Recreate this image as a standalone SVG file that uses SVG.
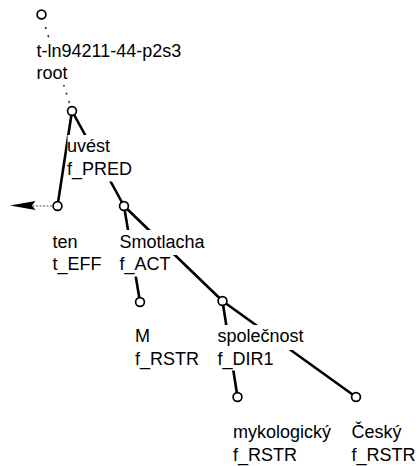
<svg xmlns="http://www.w3.org/2000/svg" width="419" height="466" viewBox="0 0 419 466">
  <style>
    .edge { stroke: #000; stroke-width: 2.6; fill: none; stroke-linecap: round; }
    .hidden-edge { stroke: #333; stroke-width: 1.7; fill: none; stroke-dasharray: 2 6.6; stroke-dashoffset: 2.4; }
    .coref { stroke: #888; stroke-width: 1.6; fill: none; stroke-dasharray: 2 1.5; }
    .node { fill: #fff; stroke: #000; stroke-width: 1.7; }
    .bg { fill: #fff; stroke: none; }
    text { font-family: "Liberation Sans", Arial, Helvetica, sans-serif; font-size: 18px; fill: #000; }
  </style>
  <rect width="419" height="466" fill="#fff"/>

  <!-- connectors -->
  <g id="connectors">
    <line class="hidden-edge" x1="43.6" y1="21.2" x2="70.5" y2="106.2"/>
    <line class="edge" x1="72" y1="111" x2="57.5" y2="206"/>
    <line class="edge" x1="72" y1="111" x2="124" y2="206"/>
    <line class="edge" x1="124" y1="206" x2="140" y2="302"/>
    <line class="edge" x1="124" y1="206" x2="222.5" y2="301"/>
    <line class="edge" x1="222.5" y1="301" x2="237.5" y2="397"/>
    <line class="edge" x1="222.5" y1="301" x2="356" y2="397"/>
    <!-- coreference arrow from "ten" -->
    <line class="coref" x1="52" y1="206" x2="33" y2="206"/>
    <polygon points="10,205.5 35.5,201 32,205.5 35.5,210" fill="#000"/>
  </g>

  <!-- nodes -->
  <g id="node-root">
    <rect class="bg" x="37" y="39.5" width="146" height="23"/>
    <rect class="bg" x="37" y="62" width="31" height="23"/>
    <circle class="node" cx="41.5" cy="14.5" r="4.4"/>
    <text x="36.5" y="56.5">t-ln94211-44-p2s3</text>
    <text x="36.5" y="79">root</text>
  </g>

  <g id="node-uvest">
    <rect class="bg" x="67.5" y="135" width="43" height="23"/>
    <rect class="bg" x="67.5" y="157.5" width="65" height="24"/>
    <circle class="node" cx="72" cy="111" r="4.4"/>
    <text x="67" y="152">uvést</text>
    <text x="67" y="174.5">f_PRED</text>
  </g>

  <g id="node-ten">
    <rect class="bg" x="53" y="230" width="25" height="23"/>
    <rect class="bg" x="53" y="252.5" width="49" height="23"/>
    <circle class="node" cx="57.5" cy="206" r="4.4"/>
    <text x="52.5" y="247.5">ten</text>
    <text x="52.5" y="270">t_EFF</text>
  </g>

  <g id="node-smotlacha">
    <rect class="bg" x="120" y="230" width="85" height="25"/>
    <rect class="bg" x="120" y="252.5" width="51" height="24"/>
    <circle class="node" cx="124" cy="206" r="4.4"/>
    <text x="119.5" y="247.5">Smotlacha</text>
    <text x="119.5" y="270">f_ACT</text>
  </g>

  <g id="node-m">
    <rect class="bg" x="135.5" y="325" width="15" height="23"/>
    <rect class="bg" x="135.5" y="347.5" width="64" height="23"/>
    <circle class="node" cx="140" cy="302" r="4.4"/>
    <text x="135" y="342">M</text>
    <text x="135" y="364.5">f_RSTR</text>
  </g>

  <g id="node-spolecnost">
    <rect class="bg" x="218" y="325" width="86" height="25"/>
    <rect class="bg" x="218" y="347.5" width="56" height="23"/>
    <circle class="node" cx="222.5" cy="301" r="4.4"/>
    <text x="217.5" y="342">společnost</text>
    <text x="217.5" y="364.5">f_DIR1</text>
  </g>

  <g id="node-mykologicky">
    <rect class="bg" x="233.5" y="421" width="98" height="23"/>
    <rect class="bg" x="233.5" y="443.5" width="64" height="22"/>
    <circle class="node" cx="237.5" cy="397" r="4.4"/>
    <text x="233" y="438">mykologický</text>
    <text x="233" y="460.5">f_RSTR</text>
  </g>

  <g id="node-cesky">
    <rect class="bg" x="352" y="421" width="50" height="23"/>
    <rect class="bg" x="352" y="443.5" width="64" height="22"/>
    <circle class="node" cx="356" cy="397" r="4.4"/>
    <text x="351.5" y="438">Český</text>
    <text x="351.5" y="460.5">f_RSTR</text>
  </g>
</svg>
